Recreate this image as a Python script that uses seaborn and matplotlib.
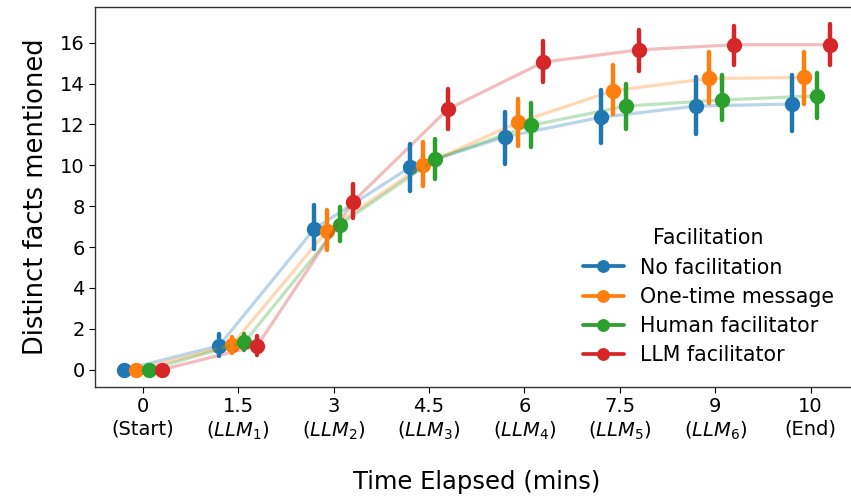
import matplotlib
matplotlib.use("Agg")
import matplotlib.pyplot as plt
import matplotlib.colors as mcolors
import numpy as np
import pandas as pd
import seaborn as sns

# time points (categorical x axis)
times = ["0", "1.5", "3", "4.5", "6", "7.5", "9", "10"]
tick_labels = ["0\n(Start)", "1.5\n($LLM_1$)", "3\n($LLM_2$)", "4.5\n($LLM_3$)",
               "6\n($LLM_4$)", "7.5\n($LLM_5$)", "9\n($LLM_6$)", "10\n(End)"]
groups = ["No facilitation", "One-time message", "Human facilitator", "LLM facilitator"]

# mean distinct facts per group
mean_none = [0.0, 1.17, 6.9, 9.9, 11.4, 12.35, 12.9, 13.0]
mean_once = [0.0, 1.2, 6.8, 10.0, 12.1, 13.65, 14.25, 14.3]
mean_human = [0.0, 1.35, 7.1, 10.3, 11.95, 12.9, 13.2, 13.4]
mean_llm = [0.0, 1.17, 8.2, 12.75, 15.05, 15.65, 15.9, 15.9]

# lower / upper ends of the error bars
lo_none = [0.0, 0.65, 5.9, 8.75, 10.05, 11.1, 11.55, 11.7]
hi_none = [0.0, 1.75, 8.05, 11.05, 12.6, 13.7, 14.3, 14.4]
lo_once = [0.0, 0.8, 5.85, 9.0, 10.95, 12.5, 13.05, 13.0]
hi_once = [0.0, 1.6, 7.8, 11.15, 13.25, 14.9, 15.55, 15.55]
lo_human = [0.0, 0.95, 6.3, 9.35, 10.9, 11.8, 12.2, 12.3]
hi_human = [0.0, 1.75, 7.95, 11.3, 13.05, 14.0, 14.4, 14.5]
lo_llm = [0.0, 0.7, 7.4, 11.8, 14.1, 14.6, 14.9, 14.9]
hi_llm = [0.0, 1.65, 9.1, 13.75, 16.1, 16.6, 16.8, 16.9]

means = [mean_none, mean_once, mean_human, mean_llm]
lows = [lo_none, lo_once, lo_human, lo_llm]
highs = [hi_none, hi_once, hi_human, hi_llm]

# long table: lo / mean / hi per cell so median = mean and min..max = error bar
rows = []
for g, m, lo, hi in zip(groups, means, lows, highs):
    for t, mv, lv, hv in zip(times, m, lo, hi):
        for v in (lv, mv, hv):
            rows.append({"time": t, "Facilitation": g, "facts": v})
df = pd.DataFrame(rows)

sns.set_style("white")
plt.rcParams["font.family"] = ["DejaVu Sans"]
plt.rcParams["text.color"] = "black"
plt.rcParams["axes.labelcolor"] = "black"
plt.rcParams["xtick.color"] = "black"
plt.rcParams["ytick.color"] = "black"

fig = plt.figure(figsize=(8.51, 4.96), dpi=100)
# axes runs slightly past the right edge: reference is cropped there
ax = fig.add_axes([0.1116, 0.2198, 0.897, 0.766])

sns.pointplot(data=df, x="time", y="facts", hue="Facilitation", order=times,
              hue_order=groups, palette="tab10", estimator="median",
              errorbar=lambda v: (v.min(), v.max()), dodge=0.4,
              markersize=9, linewidth=2.7, err_kws={"linewidth": 3.2}, ax=ax)

# make connecting lines faint while keeping markers solid
palette = sns.color_palette("tab10", 4)
main_lines = [l for l in ax.lines if len(l.get_xdata()) == len(times)]
for line, c in zip(main_lines, palette):
    line.set_color(mcolors.to_rgba(c, 0.3))
    line.set_markerfacecolor(c)
    line.set_markeredgecolor(c)
    line.set_linewidth(2.3)
    line.set_zorder(1)

ax.set_xticks(range(len(times)))
ax.set_xticklabels(tick_labels)
ax.tick_params(axis="both", labelsize=14, length=4, width=0.8, direction="out",
               bottom=True, left=True)
ax.set_yticks(range(0, 17, 2))
ax.set_xlabel("Time Elapsed (mins)", fontsize=17.5, labelpad=20)
ax.set_ylabel("Distinct facts mentioned", fontsize=18.5, labelpad=8)
for s in ax.spines.values():
    s.set_color("#333333")
    s.set_linewidth(1.0)

ax.legend(title="Facilitation", loc="lower right", bbox_to_anchor=(0.993, 0.008),
          frameon=False, fontsize=14.8, title_fontsize=14.8, handlelength=2.0,
          labelspacing=0.45, markerscale=0.8)

fig.savefig("out.png", dpi=100)
